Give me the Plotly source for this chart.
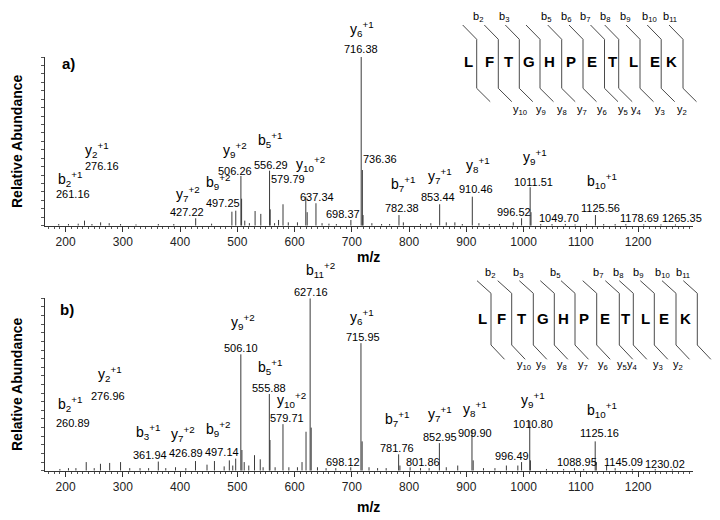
import plotly.graph_objects as go

W, H = 720, 520
FONT = "Liberation Sans, Arial, sans-serif"

# ---------------- panel a) spectrum ----------------
A_MZ = [188, 205, 222, 233, 246, 261.16, 276.16, 296, 323, 362, 389, 427.22, 455,
        490.5, 497.25, 506.26, 507.4, 513, 521, 531, 541, 556.29, 557.4, 565, 572,
        579.79, 589, 605, 619.6, 622, 637.34, 648, 660, 673, 698.37, 716.38, 718.4,
        719.6, 735, 752, 766, 782.38, 790, 820, 838, 853.44, 865, 880, 893, 910.46,
        922, 940, 958, 982, 996.52, 1011.51, 1013, 1030, 1049.70, 1073, 1090, 1110,
        1125.56, 1140, 1160, 1178.69, 1210, 1240, 1265.35]
A_INT = [1, 1, 1.2, 3, 1, 2, 1.5, 1, 0.8, 1, 1, 4.4, 1.2,
         8.3, 8.9, 29.5, 16, 3, 1.5, 8.7, 7, 32.6, 9.7, 1.5, 3.4,
         12.7, 2, 2, 17.2, 8, 13.3, 1.5, 1.2, 1, 3.4, 100, 33,
         6.3, 1.5, 1, 1, 6.3, 2, 1, 1.5, 12.7, 2, 2, 1, 17.2,
         1.5, 1, 1, 2, 4.4, 22.8, 8, 1, 1, 1, 0.8, 1,
         6.3, 1, 1, 1, 0.8, 0.8, 0.8]

A_ION = ["b2", "y2", "y7", "b9", "y9", "b5", "y10", "y6", "b7", "y7", "y8", "y9", "b10"]
A_CHARGE = ["+1", "+1", "+2", "+2", "+2", "+1", "+2", "+1", "+1", "+1", "+1", "+1", "+1"]
A_VAL = ["261.16", "276.16", "427.22", "497.25", "506.26", "556.29", "579.79", "637.34",
         "698.37", "716.38", "736.36", "782.38", "853.44", "910.46", "996.52", "1011.51",
         "1049.70", "1125.56", "1178.69", "1265.35"]

# ---------------- panel b) spectrum ----------------
B_MZ = [190, 205, 218, 236, 250, 260.89, 276.96, 296, 312, 330, 345, 361.94, 375, 392,
        410, 426.89, 447, 460, 477, 486, 492, 497.14, 506.10, 508, 512, 520, 530, 540,
        545, 555.88, 557, 566, 579.71, 590, 605, 613, 620, 627.16, 629, 640, 655, 672,
        698.12, 715.95, 718, 730, 745, 760, 781.76, 784, 801.86, 820, 835, 852.95, 865,
        885, 909.90, 912, 930, 950, 970, 990, 996.49, 1010.80, 1012, 1040, 1070, 1088.95,
        1105, 1125.16, 1127, 1145.09, 1160, 1190, 1230.02, 1260]
B_INT = [1, 1.5, 1.5, 5, 1.5, 4, 4.5, 5, 1.5, 1.5, 1.5, 5.3, 1.5, 2,
         1.5, 5.6, 3.5, 5.6, 2.5, 6, 3, 7, 67.5, 12, 5, 3, 9, 6.6,
         2, 44.5, 17.8, 2, 27, 2, 2, 5, 22.6, 100, 25, 2, 1.5, 1.5,
         2, 74, 17, 2, 1.5, 1.5, 9.5, 3, 2, 1.5, 1.5, 16, 2,
         3, 23.6, 6, 1.5, 1.5, 3, 3, 5, 29, 6, 1, 1, 1.5,
         1, 17, 5, 3, 1.5, 1, 1, 0.8]

B_ION = ["b11", "y9", "y6", "y2", "b5", "y10", "b2", "b3", "y7", "b9", "b7", "y7", "y8", "y9", "b10"]
B_CHARGE = ["+2", "+2", "+1", "+1", "+1", "+2", "+1", "+1", "+2", "+2", "+1", "+1", "+1", "+1", "+1"]
B_VAL = ["627.16", "506.10", "715.95", "276.96", "555.88", "579.71", "260.89", "361.94",
         "426.89", "497.14", "698.12", "781.76", "801.86", "852.95", "909.90", "1010.80",
         "996.49", "1125.16", "1088.95", "1145.09", "1230.02"]

# ---------------- peptide sequence / fragment ladders ----------------
SEQUENCE = list("LFTGHPETLEK")
A_B_LADDER = ["2", "3", "5", "6", "7", "8", "9", "10", "11"]
A_Y_LADDER = ["10", "9", "8", "7", "6", "5", "4", "3", "2"]
B_B_LADDER = ["2", "3", "5", "7", "8", "9", "10", "11"]
B_Y_LADDER = ["10", "9", "8", "7", "6", "5", "4", "3", "2"]

# label placement (m/z, % abundance), same order as the lists above
A_ION_POS = [(207.7, 26.1), (254.3, 42.9), (414.3, 17.2), (466.7, 24.1), (495.9, 42.9),
             (557.1, 48.8), (627, 35.0), (717.2, 115), (790, 23.1), (854, 27.5),
             (921, 34.0), (1020, 38.9), (1136.5, 24.5)]
A_VAL_POS = [(212.4, 18.6), (263.0, 35.4), (411.5, 8.3), (474.4, 13.3), (495.9, 32.6),
             (558.3, 36.0), (589.0, 27.7), (639.7, 17.2), (685.1, 6.9), (716.0, 104.6),
             (749.2, 39.4), (787.1, 10.3), (851, 17.2), (917, 21.6), (983.3, 8.3),
             (1017, 26.1), (1062, 4.4), (1134.8, 10.7), (1203.4, 4.4), (1276.2, 4.4)]
B_ION_POS = [(644.4, 114.5), (510.4, 84.5), (717.2, 87.4), (277.5, 54.5), (557.1, 58.4),
             (595, 39.1), (207.7, 37.1), (344.5, 20.7), (405.6, 19.7), (466.7, 22.6),
             (778.4, 28.4), (854, 31.3), (915.2, 34.2), (1017, 39.1), (1136.5, 33.3)]
B_VAL_POS = [(628.7, 103.8), (506.4, 71.0), (720.0, 77.7), (274.6, 43.3), (555.8, 48.1),
             (587.3, 30.4), (212.4, 27.8), (347.4, 9.1), (409.8, 10.4), (472.7, 11.0),
             (685.1, 5.2), (778.4, 13.0), (824.9, 5.2), (854, 19.7), (915.2, 21.7),
             (1017, 27.1), (979.3, 8.5), (1133.5, 21.7), (1092.8, 5.2), (1174.2, 5.2),
             (1247.1, 3.9)]

# diagram geometry in pixels
A_CUTS = [476.7, 498.3, 519.3, 540, 561.7, 583, 604.5, 618.7, 640, 661.2, 683]
A_RES_X = [468.3, 489.3, 508.3, 529.3, 549.3, 571, 591.7, 612.7, 633.3, 655, 671.7]
A_B_X = [478.3, 504, 546, 566, 585, 605, 625, 649.3, 670]
A_Y_X = [520, 540.7, 561.7, 581.7, 601.7, 623.3, 636.7, 660, 681.7]
B_CUTS = [491, 511.7, 533.3, 554.3, 575, 596.7, 619.3, 633.3, 654.3, 676, 697.3]
B_RES_X = [482.7, 501.7, 521.7, 542.7, 563.3, 584, 605, 625, 645, 664, 685]
B_B_X = [490, 518.3, 555, 598.3, 618.3, 638.3, 662.7, 683.3]
B_Y_X = [524, 540.7, 561.7, 583.3, 603.3, 621.7, 632.7, 658.3, 678.3]


def fx(px):
    return px / W


def fy(py):
    return 1 - py / H


def ion_html(name, charge):
    return f"{name[0]}<sub>{name[1:]}</sub><sup>{charge}</sup>"


def stick_xy(mz, inten):
    xs, ys = [], []
    for m, i in zip(mz, inten):
        xs += [m, m, None]
        ys += [0, i, None]
    return xs, ys


fig = go.Figure()
for mz, inten, ax in [(A_MZ, A_INT, ("x", "y")), (B_MZ, B_INT, ("x2", "y2"))]:
    xs, ys = stick_xy(mz, inten)
    fig.add_trace(go.Scatter(x=xs, y=ys, mode="lines", xaxis=ax[0], yaxis=ax[1],
                             line=dict(color="#3a3a3a", width=1), showlegend=False,
                             hoverinfo="skip"))

xdom = [45 / W, 693 / W]
x_common = dict(domain=xdom, range=[164, 1296], showline=True, linecolor="#333", linewidth=1,
                ticks="outside", ticklen=5, tickcolor="#333", dtick=100, tick0=0,
                tickfont=dict(size=12, color="#222", family=FONT), showgrid=False,
                zeroline=False, minor=dict(dtick=10, ticks="outside", ticklen=2, tickcolor="#555"))
y_common = dict(range=[0, 100], showline=True, linecolor="#333", linewidth=1, ticks="outside",
                ticklen=3, tickcolor="#555", dtick=5, showticklabels=False, showgrid=False,
                zeroline=False)

fig.update_layout(
    width=W, height=H, margin=dict(l=0, r=0, t=0, b=0),
    paper_bgcolor="white", plot_bgcolor="white",
    font=dict(family=FONT, color="black"),
    xaxis=dict(**x_common, anchor="y"),
    yaxis=dict(**y_common, domain=[fy(225.7), fy(57)], anchor="x"),
    xaxis2=dict(**x_common, anchor="y2"),
    yaxis2=dict(**y_common, domain=[fy(470.7), fy(298.3)], anchor="x2"),
)

ann = []


def label(text, x, y, xref, yref, size, bold=False, **kw):
    if bold:
        text = f"<b>{text}</b>"
    ann.append(dict(text=text, x=x, y=y, xref=xref, yref=yref, showarrow=False,
                    font=dict(size=size, family=FONT, color="black"),
                    xanchor="center", yanchor="middle", **kw))


panels = [
    (A_ION, A_CHARGE, A_ION_POS, A_VAL, A_VAL_POS, "x", "y domain"),
    (B_ION, B_CHARGE, B_ION_POS, B_VAL, B_VAL_POS, "x2", "y2 domain"),
]
for ions, charges, ipos, vals, vpos, xr, yr in panels:
    # heights are in % of the 0-100 axis, so divide to get the axis-domain fraction
    for name, ch, (x, y) in zip(ions, charges, ipos):
        label(ion_html(name, ch), x, y / 100, xr, yr, 14, yshift=3)
    for v, (x, y) in zip(vals, vpos):
        label(v, x, y / 100, xr, yr, 11)

# panel letters and axis titles
label("a)", fx(68), fy(63), "paper", "paper", 15, bold=True)
label("b)", fx(67), fy(309), "paper", "paper", 15, bold=True)
for ymid in (141, 384):
    label("Relative Abundance", fx(17), fy(ymid), "paper", "paper", 14, bold=True, textangle=-90)
for ymid in (257, 507):
    label("m/z", fx(369), fy(ymid), "paper", "paper", 14, bold=True)

# fragmentation ladder diagrams
shapes = []
diagrams = [
    (A_CUTS, A_RES_X, A_B_X, A_Y_X, A_B_LADDER, A_Y_LADDER, 25, 39.3, 88.3, 101.7, 61.7, 16.7, 110),
    (B_CUTS, B_RES_X, B_B_X, B_Y_X, B_B_LADDER, B_Y_LADDER, 280.7, 293.3, 345, 359.3, 318.3, 273.3, 365),
]
for cuts, res_x, bx, yx, bl, yl, y0, y1, y2, y3, yres, yb, yy in diagrams:
    for c in cuts:
        path = (f"M {fx(c - 14)} {fy(y0)} L {fx(c)} {fy(y1)} L {fx(c)} {fy(y2)} "
                f"L {fx(c + 13.5)} {fy(y3)}")
        shapes.append(dict(type="path", path=path, xref="paper", yref="paper",
                           line=dict(color="#4a4a4a", width=1)))
    for aa, x in zip(SEQUENCE, res_x):
        label(aa, fx(x), fy(yres), "paper", "paper", 15, bold=True)
    for n, x in zip(bl, bx):
        label(f"b<sub>{n}</sub>", fx(x), fy(yb), "paper", "paper", 11)
    for n, x in zip(yl, yx):
        label(f"y<sub>{n}</sub>", fx(x), fy(yy), "paper", "paper", 11)

fig.update_layout(annotations=ann, shapes=shapes)
# drop the browser's default 8px body margin so the 720x520 figure fills the window
fig.write_html("out.html", config={"displayModeBar": False},
               post_script="document.body.style.margin='0';")
